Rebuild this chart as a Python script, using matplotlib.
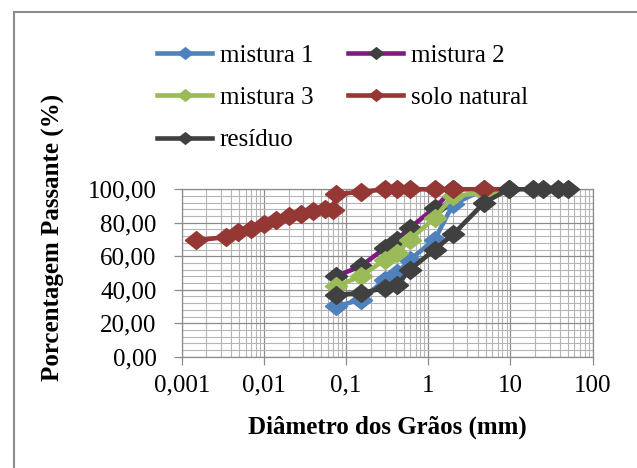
import matplotlib
matplotlib.use("Agg")
import matplotlib.pyplot as plt
from matplotlib.ticker import FixedLocator, FixedFormatter, MultipleLocator, LogLocator, NullFormatter
from matplotlib.patches import Rectangle

# dados da curva granulometrica (diametro em mm, % passante)
mistura1_d = [0.075, 0.15, 0.3, 0.42, 0.6, 1.2, 2.0, 4.8]
mistura1_p = [30, 34, 46, 50, 58, 70, 91, 100]
mistura2_d = [0.075, 0.15, 0.3, 0.42, 0.6, 1.2, 2.0]
mistura2_p = [48, 54, 65, 70, 77, 89, 100]
mistura3_d = [0.075, 0.15, 0.3, 0.42, 0.6, 1.2, 2.0, 4.8, 9.5]
mistura3_p = [42, 48, 58, 62, 70, 83, 96, 98, 100]
solo_d = [0.0015, 0.0035, 0.0048, 0.0069, 0.0099, 0.014, 0.020, 0.028, 0.040,
          0.056, 0.070, 0.075, 0.15, 0.3, 0.42, 0.6, 1.2, 2.0, 4.8, 9.5]
solo_p = [69.5, 71.5, 74.5, 76.5, 79, 81.5, 84, 85.5, 87,
          88, 87.5, 97, 98.5, 100, 100, 100, 100, 100, 100, 100]
residuo_d = [0.075, 0.15, 0.3, 0.42, 0.6, 1.2, 2.0, 4.8, 9.5, 19, 25, 38, 50]
residuo_p = [37, 38, 41, 43, 52, 64, 73, 92, 100, 100, 100, 100, 100]

xticks = [0.001, 0.01, 0.1, 1, 10, 100]
xticklabels = ['0,001', '0,01', '0,1', '1', '10', '100']
yticks = [0, 20, 40, 60, 80, 100]
yticklabels = ['0,00', '20,00', '40,00', '60,00', '80,00', '100,00']

plt.rcParams['font.family'] = ['Liberation Serif', 'DejaVu Serif']
plt.rcParams['font.size'] = 18

# losango um pouco mais largo que alto, como no Excel
diamante = [(-1.25, 0), (0, 1), (1.25, 0), (0, -1), (-1.25, 0)]

fig = plt.figure(figsize=(6.37, 4.68), dpi=100)
ax = fig.add_axes([181.7/637, 1-356.7/468, 410.9/637, 167.4/468])

series = [
    (mistura1_d, mistura1_p, '#4F81BD', '#4F81BD', 'mistura 1'),
    (mistura2_d, mistura2_p, '#7F1A7F', '#3F3F3F', 'mistura 2'),
    (mistura3_d, mistura3_p, '#9BBB59', '#9BBB59', 'mistura 3'),
    (solo_d, solo_p, '#953735', '#953735', 'solo natural'),
    (residuo_d, residuo_p, '#404040', '#404040', 'resíduo'),
]
linhas = {}
for d, p, cor, cor_m, nome in series:
    l, = ax.plot(d, p, color=cor, lw=3.3, marker=diamante, ms=16,
                 markerfacecolor=cor_m, markeredgecolor=cor_m, label=nome,
                 clip_on=False, zorder=3)
    linhas[nome] = l

ax.set_xscale('log')
ax.set_xlim(0.001, 100)
ax.set_ylim(0, 100)
ax.xaxis.set_major_locator(FixedLocator(xticks))
ax.xaxis.set_major_formatter(FixedFormatter(xticklabels))
ax.xaxis.set_minor_locator(LogLocator(base=10, subs=range(2, 10), numticks=20))
ax.xaxis.set_minor_formatter(NullFormatter())
ax.yaxis.set_major_locator(FixedLocator(yticks))
ax.yaxis.set_major_formatter(FixedFormatter(yticklabels))
ax.yaxis.set_minor_locator(MultipleLocator(4))

ax.grid(which='major', color='#8c8c8c', lw=0.9)
ax.grid(which='minor', color='#b5b5b5', lw=0.8)
ax.set_axisbelow(True)
ax.tick_params(axis='both', which='major', direction='out', length=6, width=0.9,
               color='#8c8c8c')
ax.tick_params(axis='y', which='major', pad=12)
ax.tick_params(axis='x', which='major', pad=7)
ax.tick_params(which='minor', length=0)
for s in ax.spines.values():
    s.set_color('#8c8c8c')
    s.set_linewidth(0.9)

fig.text(387/637, 1-427/468, 'Diâmetro dos Grãos (mm)', ha='center', va='center',
         weight='bold')
fig.text(53/637, 1-237/468, 'Porcentagem Passante (%)', ha='center', va='center',
         rotation=90, weight='bold')

ordem = ['mistura 1', 'mistura 3', 'resíduo', 'mistura 2', 'solo natural']
fig.legend([linhas[n] for n in ordem], ordem, ncol=2, loc='upper left',
           bbox_to_anchor=(157/637, 1-44/468), frameon=False, borderpad=0,
           borderaxespad=0, handlelength=2.2, handletextpad=0.3,
           columnspacing=1.4, labelspacing=0.8, markerscale=0.65)

fig.patches.append(Rectangle((13.5/637, -0.1), 1.2, 1-11.5/468+0.1,
                             transform=fig.transFigure, fill=False,
                             edgecolor='#8c8c8c', lw=1.5))

fig.savefig('out.png', dpi=100)
